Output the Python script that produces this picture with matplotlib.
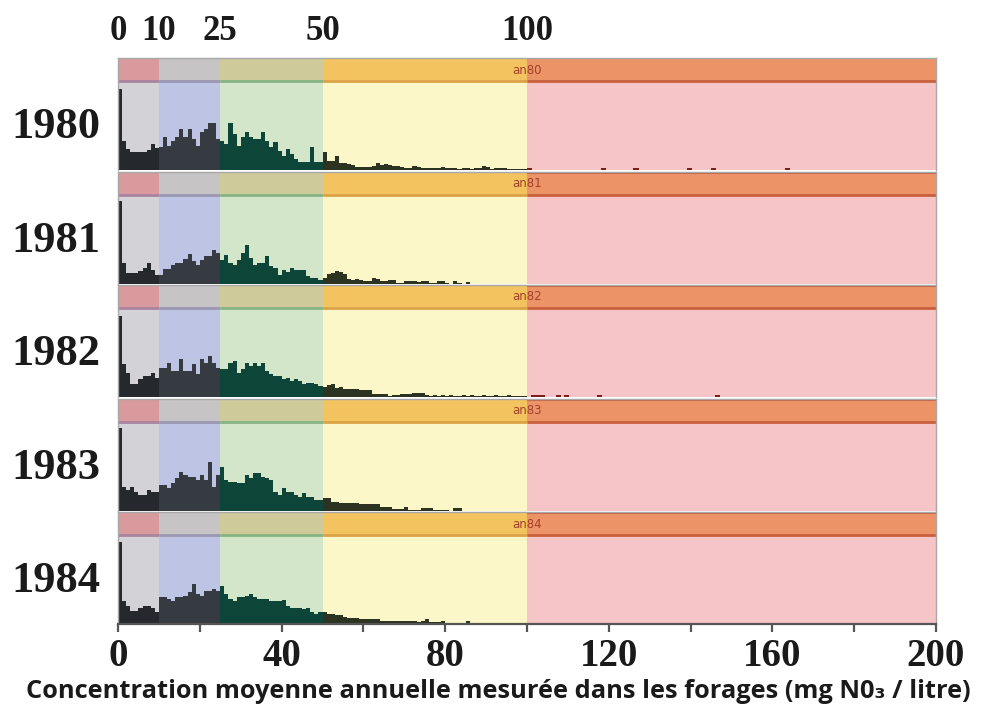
import numpy as np
import matplotlib
matplotlib.use("Agg")
from matplotlib import pyplot as plt

# années et histogrammes (classes de 1 mg/l, de 0 à 99)
years = ["1980", "1981", "1982", "1983", "1984"]
tags = ["an80", "an81", "an82", "an83", "an84"]

h1980 = [81, 29, 21, 18, 18, 18, 18, 20, 26, 22,
         23, 33, 24, 29, 33, 41, 33, 41, 31, 24,
         38, 41, 47, 47, 31, 29, 26, 47, 36, 24,
         33, 38, 33, 31, 31, 38, 29, 23, 28, 19,
         14, 21, 16, 11, 8, 8, 8, 23, 8, 8,
         18, 9, 9, 14, 7, 7, 6, 5, 3, 3,
         3, 3, 4, 7, 5, 6, 5, 4, 4, 3,
         2, 2, 4, 3, 2, 2, 2, 2, 2, 3,
         2, 2, 2, 1, 2, 2, 1, 2, 2, 4,
         3, 1, 2, 2, 2, 1, 1, 1, 1, 1]
h1981 = [83, 21, 11, 11, 11, 13, 16, 21, 14, 9,
         9, 15, 15, 19, 21, 21, 25, 30, 23, 19,
         24, 28, 28, 34, 31, 24, 29, 21, 19, 24,
         31, 39, 26, 19, 21, 21, 28, 18, 16, 9,
         14, 12, 16, 14, 14, 14, 8, 6, 6, 4,
         6, 10, 11, 13, 12, 10, 5, 4, 5, 4,
         3, 3, 6, 5, 3, 3, 4, 4, 1, 1,
         3, 3, 3, 2, 3, 3, 1, 1, 3, 3,
         1, 0, 3, 1, 0, 2, 0, 0, 0, 0,
         0, 0, 0, 0, 0, 0, 0, 0, 0, 0]
h1982 = [81, 33, 24, 13, 13, 18, 21, 21, 24, 19,
         29, 29, 34, 26, 26, 38, 26, 26, 33, 23,
         38, 34, 41, 34, 29, 28, 28, 34, 36, 24,
         28, 34, 31, 34, 31, 34, 26, 23, 21, 21,
         18, 19, 16, 18, 16, 13, 14, 14, 13, 11,
         10, 12, 13, 9, 10, 8, 8, 8, 8, 7,
         7, 7, 3, 3, 3, 3, 1, 2, 2, 3,
         3, 3, 4, 4, 4, 2, 1, 2, 1, 2,
         1, 2, 1, 1, 2, 1, 2, 1, 1, 2,
         1, 1, 2, 1, 1, 2, 1, 1, 1, 1]
h1983 = [83, 24, 21, 24, 19, 16, 16, 21, 19, 19,
         26, 26, 23, 28, 33, 39, 36, 34, 34, 31,
         36, 31, 49, 24, 36, 44, 31, 29, 29, 28,
         28, 36, 33, 38, 38, 34, 33, 31, 19, 16,
         23, 19, 19, 16, 14, 18, 14, 14, 11, 11,
         13, 13, 9, 9, 8, 8, 8, 8, 8, 7,
         7, 7, 7, 7, 4, 4, 4, 2, 2, 2,
         4, 1, 1, 1, 3, 3, 3, 1, 1, 1,
         1, 0, 3, 3, 0, 0, 0, 0, 0, 0,
         0, 0, 0, 0, 0, 0, 0, 0, 0, 0]
h1984 = [82, 23, 18, 13, 13, 16, 18, 18, 16, 12,
         27, 27, 25, 23, 27, 27, 28, 32, 40, 30,
         28, 33, 33, 35, 33, 38, 30, 25, 23, 27,
         27, 28, 30, 27, 25, 25, 25, 23, 23, 23,
         24, 18, 16, 16, 16, 15, 16, 12, 10, 12,
         12, 10, 10, 9, 9, 7, 6, 6, 6, 5,
         5, 5, 5, 5, 3, 3, 3, 3, 3, 3,
         3, 3, 3, 2, 3, 5, 2, 2, 2, 3,
         1, 1, 1, 1, 1, 3, 1, 1, 1, 1,
         1, 1, 1, 1, 1, 1, 1, 1, 1, 1]
hists = [h1980, h1981, h1982, h1983, h1984]

# quelques forages isolés au-delà de 100 mg/l (classe, effectif)
high_bins = {"1980": [100, 118, 126, 139, 145, 163],
             "1982": [101, 102, 103, 107, 109, 117, 146]}
high_count = 2

# seuils et couleurs des classes
limits = [0, 10, 25, 50, 100, 200]
bg_cols = ["#d3d3d7", "#bdc4e4", "#d3e6c9", "#fbf7c9", "#f5c5c7"]
strip_cols = ["#d89a9c", "#c7c4c6", "#cfca9a", "#f2c35f", "#ec9467"]
line_cols = ["#a983a0", "#9a98b2", "#86b484", "#dca247", "#c9603f"]
bar_cols = ["#25292e", "#363b41", "#0d4539", "#2c3320", "#7a1f1a"]
top_labels = [0, 10, 25, 50, 100]
xticks_major = [0, 40, 80, 120, 160, 200]
xticks_minor = [20, 60, 100, 140, 180]

W, H = 996, 718
HIST_TOP = 88
PANEL_H = 112
tops = [58, 171.5, 285, 398.5, 512]
x0, x1 = 118, 936

serif = ["Liberation Serif", "DejaVu Serif"]


def zone(v):
    for i in range(len(limits) - 1):
        if limits[i] <= v < limits[i + 1]:
            return i
    return len(limits) - 2


fig = plt.figure(figsize=(W / 100, H / 100), dpi=100)
axes = []
for i, year in enumerate(years):
    ax = fig.add_axes([x0 / W, 1 - (tops[i] + PANEL_H) / H, (x1 - x0) / W, PANEL_H / H])
    axes.append(ax)
    ax.set_xlim(0, 200)
    ax.set_ylim(0, PANEL_H)
    f = HIST_TOP / PANEL_H
    for z in range(len(limits) - 1):
        lo, hi = limits[z], limits[z + 1]
        ax.axvspan(lo, hi, ymin=0, ymax=f, color=bg_cols[z], lw=0, zorder=0)
        ax.axvspan(lo, hi, ymin=f, ymax=1, color=strip_cols[z], lw=0, zorder=0)
        ax.plot([lo, hi], [HIST_TOP + 1, HIST_TOP + 1], color=line_cols[z], lw=2,
                solid_capstyle="butt", zorder=1)
        if i > 0 and z == len(limits) - 2:
            ax.plot([lo, hi], [PANEL_H - 1, PANEL_H - 1], color=line_cols[z], lw=1.5,
                    solid_capstyle="butt", zorder=1)

    vals = hists[i]
    bins = np.arange(len(vals))
    ax.bar(bins, vals, width=1, align="edge", lw=0,
           color=[bar_cols[zone(b)] for b in bins], zorder=2)
    if year in high_bins:
        hb = high_bins[year]
        ax.bar(hb, [high_count] * len(hb), width=1.3, align="edge", lw=0,
               color=bar_cols[-1], zorder=2)

    ax.text(100, HIST_TOP + 12, tags[i], fontsize=8.5, color="#a4402c",
            ha="center", va="center", zorder=3)
    ax.text(-4.4, HIST_TOP / 2 - 1, year, fontsize=32, fontweight="bold",
            family=serif, ha="right", va="center", clip_on=False, color="#1a1a1a")

    for s in ["left", "right", "top"]:
        ax.spines[s].set_color("#a8a8a8")
        ax.spines[s].set_linewidth(1)
    ax.spines["bottom"].set_visible(False)
    ax.set_yticks([])
    ax.set_xticks([])

# axe des concentrations
last = axes[-1]
last.spines["bottom"].set_visible(True)
last.spines["bottom"].set_color("#555555")
last.spines["bottom"].set_linewidth(1.6)
last.set_xticks(xticks_major)
last.set_xticks(xticks_minor, minor=True)
last.set_xticklabels([str(t) for t in xticks_major], fontsize=28,
                     fontweight="bold", family=serif, color="#1a1a1a")
last.tick_params(axis="x", which="both", length=6, width=1.6, color="#555555",
                 direction="out", pad=4)

# seuils en haut
for v in top_labels:
    axes[0].text(v, PANEL_H + 26, str(v), fontsize=25, fontweight="bold",
                 family=serif, ha="center", va="center", clip_on=False, color="#1a1a1a")

fig.text(498 / W, 1 - 692 / H,
         "Concentration moyenne annuelle mesurée dans les forages (mg N0₃ / litre)",
         fontsize=18.3, fontweight="bold", family=["Open Sans", "DejaVu Sans"],
         ha="center", va="center", color="#1a1a1a")

fig.savefig("out.png", dpi=100)
